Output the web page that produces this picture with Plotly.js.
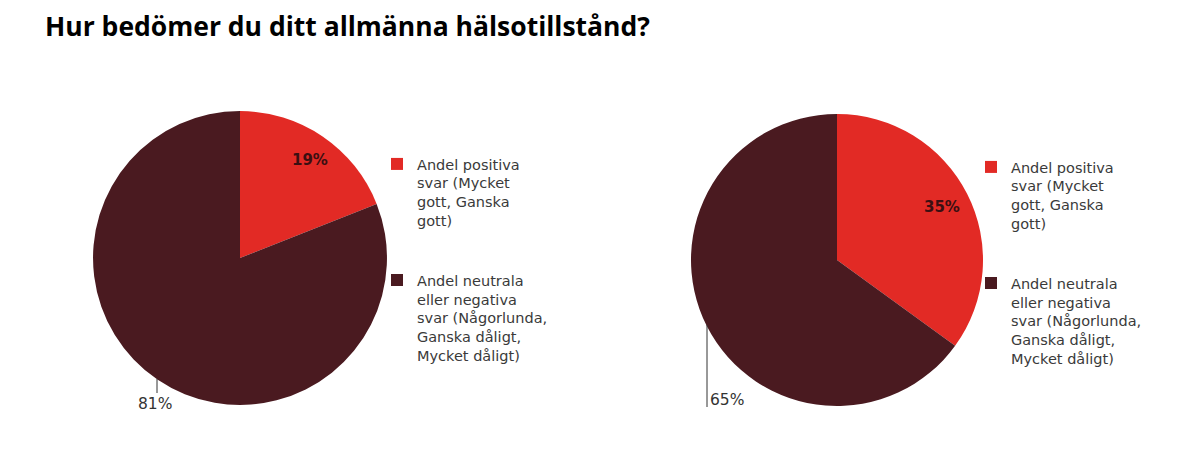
<!DOCTYPE html>
<html>
<head>
<meta charset="utf-8">
<script src="https://cdn.plot.ly/plotly-3.0.1.min.js"></script>
<style>html,body{margin:0;padding:0;background:#fff;}#chart{width:1200px;height:455px;}</style>
</head>
<body>
<div id="chart"></div>
<script>
const titleText = "Hur bedömer du ditt allmänna hälsotillstånd?";
const categories = [
  "Andel positiva<br>svar (Mycket<br>gott, Ganska<br>gott)<br> <br> ",
  "Andel neutrala<br>eller negativa<br>svar (Någorlunda,<br>Ganska dåligt,<br>Mycket dåligt)"
];
const valuesLeft = [19, 81];
const valuesRight = [35, 65];
const colors = ["#e22a25", "#4a1a20"];

// pie legend entries are shared by label across traces; a zero-width suffix keeps the second legend separate
const categoriesRight = categories.map(c => c + "\u200b");

const textFamily = "'DejaVu Sans', sans-serif";
const legendFont = {family: textFamily, size: 14.5, color: "#3a3a3a"};

const pieBase = {
  type: "pie",
  sort: false,
  direction: "clockwise",
  rotation: 0,
  marker: {colors: colors, line: {width: 0}},
  textinfo: "none",
  hoverinfo: "label+value",
  automargin: false
};

const traces = [
  Object.assign({}, pieBase, {labels: categories, values: valuesLeft,
    domain: {x: [0.0775, 0.3225], y: [0.110, 0.756]}, legend: "legend"}),
  Object.assign({}, pieBase, {labels: categoriesRight, values: valuesRight,
    domain: {x: [0.5758, 0.8192], y: [0.1077, 0.7495]}, legend: "legend2"})
];

const outFont = {family: textFamily, size: 15.5, color: "#333333"};
const inFont = {family: textFamily, size: 15, color: "#3a0f12"};

const layout = {
  width: 1200, height: 455,
  margin: {l: 0, r: 0, t: 0, b: 0},
  paper_bgcolor: "#ffffff",
  title: {
    text: "<b>" + titleText + "</b>",
    x: 45/1200, xanchor: "left", xref: "paper",
    y: 1 - 27/455, yanchor: "middle", yref: "paper",
    font: {family: "'Open Sans', sans-serif", size: 26.5, color: "#000000"}
  },
  showlegend: true,
  legend: {x: 377/1200, y: 1 - 148/455, xanchor: "left", yanchor: "top", valign: "top",
           font: legendFont, itemwidth: 30, bgcolor: "rgba(0,0,0,0)", tracegroupgap: 0, itemclick: false},
  legend2: {x: 971/1200, y: 1 - 151/455, xanchor: "left", yanchor: "top", valign: "top",
           font: legendFont, itemwidth: 30, bgcolor: "rgba(0,0,0,0)", tracegroupgap: 0, itemclick: false},
  annotations: [
    {text: "<b>" + valuesLeft[0] + "%</b>", x: 310/1200, y: 1 - 160/455, xref: "paper", yref: "paper",
     xanchor: "center", yanchor: "middle", showarrow: false, font: inFont},
    {text: "<b>" + valuesRight[0] + "%</b>", x: 942/1200, y: 1 - 207/455, xref: "paper", yref: "paper",
     xanchor: "center", yanchor: "middle", showarrow: false, font: inFont},
    {text: valuesLeft[1] + "%", x: 155/1200, y: 1 - 404/455, xref: "paper", yref: "paper",
     xanchor: "center", yanchor: "middle", showarrow: false, font: outFont},
    {text: valuesRight[1] + "%", x: 708/1200, y: 1 - 400/455, xref: "paper", yref: "paper",
     xanchor: "left", yanchor: "middle", showarrow: false, font: outFont}
  ],
  shapes: [
    {type: "line", xref: "paper", yref: "paper", x0: 157/1200, x1: 157/1200, y0: 1 - 379/455, y1: 1 - 393/455,
     line: {color: "#333333", width: 1}},
    {type: "line", xref: "paper", yref: "paper", x0: 707/1200, x1: 707/1200, y0: 1 - 325/455, y1: 1 - 407/455,
     line: {color: "#333333", width: 1}}
  ]
};

Plotly.newPlot("chart", traces, layout, {displayModeBar: false, staticPlot: true});
</script>
</body>
</html>
